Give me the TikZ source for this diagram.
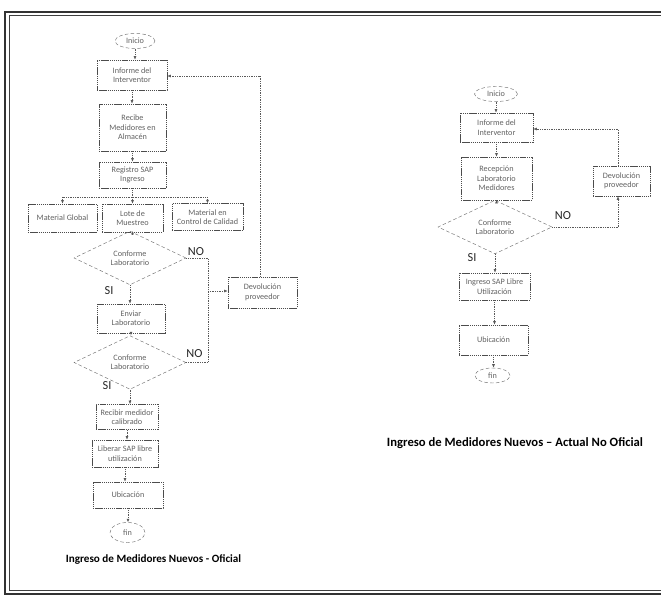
\documentclass[tikz,border=0pt]{standalone}
\usepackage{fontspec}
\setmainfont{Carlito}
\usetikzlibrary{shapes.geometric,arrows.meta}
\begin{document}
\begin{tikzpicture}[x=0.03cm,y=-0.03cm,
  every node/.style={font=\fontsize{7}{8}\selectfont, text=black!62, align=center, inner sep=1pt},
  procbox/.style={draw=black!70, dash pattern=on 1.2pt off 0.6pt, line width=0.5pt, rectangle},
  termin/.style={draw=black!55, densely dashed, line width=0.4pt, ellipse, inner sep=0pt},
  decis/.style={draw=black!55, densely dashed, line width=0.4pt, diamond, inner sep=0pt},
  conn/.style={draw=black!65, densely dotted, line width=0.5pt},
  arr/.style={conn, -{Latex[length=3pt,width=2.5pt]}},
  lbl/.style={font=\fontsize{10.5}{12}\selectfont, text=black!85},
  capt/.style={font=\bfseries\fontsize{9.5}{11}\selectfont, text=black},
  frameo/.style={draw=black!80, line width=1.2pt},
  framei/.style={draw=black!75, line width=0.6pt}]
\useasboundingbox (0,0) rectangle (661,597);
% frame (open on the right)
\draw[frameo] (690,12) -- (5,12) -- (5,594) -- (690,594);
\draw[framei] (690,15.5) -- (9,15.5) -- (9,590.5) -- (690,590.5);

% ---------------- left flowchart ----------------
\node[termin, minimum width=1.2cm, minimum height=0.45cm] (iniL) at (135,41) {Inicio};
\node[procbox, minimum width=2.1cm, minimum height=0.9cm] (infL) at (132,75) {Informe del\\Interventor};
\node[procbox, minimum width=2.01cm, minimum height=1.41cm] (recibe) at (132.5,127.5) {Recibe\\Medidores en\\Almacén};
\node[procbox, minimum width=2.01cm, minimum height=0.78cm] (regis) at (132.5,175) {Registro SAP\\Ingreso};
\node[procbox, minimum width=2.07cm, minimum height=0.84cm] (mglob) at (62.5,218) {Material Global};
\node[procbox, minimum width=1.83cm, minimum height=0.84cm] (lote) at (132.5,218) {Lote de\\Muestreo};
\node[procbox, minimum width=2.13cm, minimum height=0.8cm] (mctrl) at (207.5,217) {Material en\\Control de Calidad};
\node[decis, minimum width=3.36cm, minimum height=1.08cm] (d1) at (130,258) {Conforme\\Laboratorio};
\node[procbox, minimum width=2.07cm, minimum height=0.93cm] (devL) at (262.5,292.5) {Devolución\\proveedor};
\node[procbox, minimum width=2.04cm, minimum height=0.87cm] (envia) at (131,318.5) {Enviar\\Laboratorio};
\node[decis, minimum width=3.36cm, minimum height=1.11cm] (d2) at (130,362.5) {Conforme\\Laboratorio};
\node[procbox, minimum width=1.86cm, minimum height=0.75cm] (recal) at (127,417) {Recibir medidor\\calibrado};
\node[procbox, minimum width=1.98cm, minimum height=0.81cm] (liber) at (125,453.5) {Liberar SAP libre\\utilización};
\node[procbox, minimum width=2.1cm, minimum height=0.78cm] (ubiL) at (128,495) {Ubicación};
\node[termin, minimum width=1.05cm, minimum height=0.6cm] (finL) at (127.5,532.5) {fin};

\coordinate (brL) at (62.5,197);
\coordinate (brR) at (207.5,197);
\coordinate (jn1) at (208,258);
\coordinate (jn2) at (208,362.5);
\coordinate (jn3) at (208,291);
\coordinate (upL) at (260,76);

\draw[arr] (iniL.south) -- (iniL.south |- infL.north);
\draw[arr] (infL.south) -- (infL.south |- recibe.north);
\draw[arr] (recibe.south) -- (recibe.south |- regis.north);
\draw[conn] (regis.south) -- (regis.south |- brL);
\draw[conn] (brL) -- (brR);
\draw[arr] (brL) -- (mglob.north);
\draw[arr] (regis.south |- brL) -- (lote.north);
\draw[arr] (brR) -- (mctrl.north);
\draw[arr] (lote.south) -- (lote.south |- d1.north);
\draw[arr] (d1.south) -- (d1.south |- envia.north);
\draw[arr] (envia.south) -- (envia.south |- d2.north);
\draw[arr] (d2.south) -- (d2.south |- recal.north);
\draw[arr] (recal.south) -- (recal.south |- liber.north);
\draw[arr] (liber.south) -- (liber.south |- ubiL.north);
\draw[arr] (ubiL.south) -- (ubiL.south |- finL.north);
\draw[conn] (d1.east) -- (jn1) -- (jn2) -- (d2.east);
\draw[arr] (jn3) -- (jn3 -| devL.west);
\draw[conn] (devL.north -| upL) -- (upL);
\draw[arr] (upL) -- (upL -| infL.east);

\node[lbl] (noL1) at (196,252) {NO};
\node[lbl] (noL2) at (194.5,354) {NO};
\node[lbl] (siL1) at (109,291) {SI};
\node[lbl] (siL2) at (107,386) {SI};

\node[capt] (captL) at (153.5,560) {Ingreso de Medidores Nuevos - Oficial};

% ---------------- right flowchart ----------------
\node[termin, minimum width=1.29cm, minimum height=0.45cm] (iniR) at (496,94) {Inicio};
\node[procbox, minimum width=2.19cm, minimum height=0.87cm] (infR) at (496.5,127.5) {Informe del\\Interventor};
\node[procbox, minimum width=2.13cm, minimum height=1.29cm] (recep) at (496.5,178.5) {Recepción\\Laboratorio\\Medidores};
\node[decis, minimum width=3.42cm, minimum height=0.95cm] (dR) at (495,227) {Conforme\\Laboratorio};
\node[procbox, minimum width=1.71cm, minimum height=0.9cm] (devR) at (621.5,181) {Devolución\\proveedor};
\node[procbox, minimum width=2.13cm, minimum height=0.81cm] (ingr) at (494.5,286.5) {Ingreso SAP Libre\\Utilización};
\node[procbox, minimum width=2.07cm, minimum height=0.9cm] (ubiR) at (493.5,340) {Ubicación};
\node[termin, minimum width=1.05cm, minimum height=0.45cm] (finR) at (492.5,375.5) {fin};

\coordinate (jR) at (618,227);
\coordinate (upR) at (618,129);

\draw[arr] (iniR.south) -- (iniR.south |- infR.north);
\draw[arr] (infR.south) -- (infR.south |- recep.north);
\draw[arr] (recep.south) -- (recep.south |- dR.north);
\draw[arr] (dR.south) -- (dR.south |- ingr.north);
\draw[arr] (ingr.south) -- (ingr.south |- ubiR.north);
\draw[arr] (ubiR.south) -- (ubiR.south |- finR.north);
\draw[conn] (dR.east) -- (jR);
\draw[arr] (jR) -- (jR |- devR.south);
\draw[conn] (devR.north -| upR) -- (upR);
\draw[arr] (upR) -- (upR -| infR.east);

\node[lbl] (noR) at (563,216) {NO};
\node[lbl] (siR) at (472,258) {SI};

\node[capt, font=\bfseries\fontsize{10.8}{12}\selectfont] (captR) at (515,443) {Ingreso de Medidores Nuevos – Actual No Oficial};
\end{tikzpicture}
\end{document}
